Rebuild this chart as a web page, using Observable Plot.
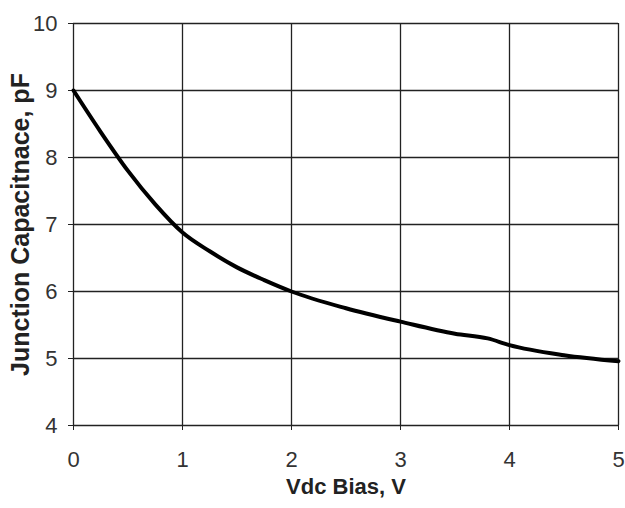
<!DOCTYPE html>
<html>
<head>
<meta charset="utf-8">
<script src="https://cdn.jsdelivr.net/npm/d3@7"></script>
<script src="https://cdn.jsdelivr.net/npm/@observablehq/plot@0.6"></script>
<style>
  html, body { margin: 0; padding: 0; background: #fff; }
  #chart svg { display: block; }
</style>
</head>
<body>
<div id="chart"></div>
<script>
const biasV = [0, 0.25, 0.5, 0.75, 1, 1.25, 1.5, 1.75, 2, 2.5, 3, 3.5, 3.8, 4, 4.5, 5];
const capPF = [9.0, 8.38, 7.8, 7.3, 6.88, 6.6, 6.36, 6.17, 6.0, 5.75, 5.55, 5.37, 5.3, 5.2, 5.05, 4.96];
const xTicks = [0, 1, 2, 3, 4, 5];
const yTicks = [4, 5, 6, 7, 8, 9, 10];
const xTitle = "Vdc Bias, V";
const yTitle = "Junction Capacitnace, pF";

const data = biasV.map((v, i) => ({v, c: capPF[i]}));

const chart = Plot.plot({
  width: 625,
  height: 508,
  marginLeft: 73,
  marginRight: 7,
  marginTop: 23,
  marginBottom: 83,
  style: {fontFamily: "'Liberation Sans', Arial, sans-serif", fontSize: "22px", color: "#333", background: "#fff"},
  x: {domain: [0, 5]},
  y: {domain: [4, 10]},
  marks: [
    Plot.gridX(xTicks, {stroke: "#222", strokeOpacity: 1, strokeWidth: 1.3}),
    Plot.gridY(yTicks, {stroke: "#222", strokeOpacity: 1, strokeWidth: 1.3}),
    Plot.axisX(xTicks, {tickSize: 5, tickPadding: 21, tickFormat: "d", label: null, stroke: "#222", fill: "#333", fontSize: 22}),
    Plot.axisY(yTicks, {tickSize: 5, tickPadding: 11, tickFormat: "d", label: null, stroke: "#222", fill: "#333", fontSize: 22}),
    Plot.line(data, {x: "v", y: "c", stroke: "#000", strokeWidth: 4, curve: "monotone-x"}),
    Plot.text([xTitle], {frameAnchor: "bottom", dy: 68, text: d => d, fontWeight: "bold", fontSize: 22, fill: "#222"}),
    Plot.text([yTitle], {frameAnchor: "left", dx: -53, rotate: -90, textAnchor: "middle", text: d => d, fontWeight: "bold", fontSize: 25, fill: "#222"})
  ]
});
document.getElementById("chart").appendChild(chart);
</script>
</body>
</html>
